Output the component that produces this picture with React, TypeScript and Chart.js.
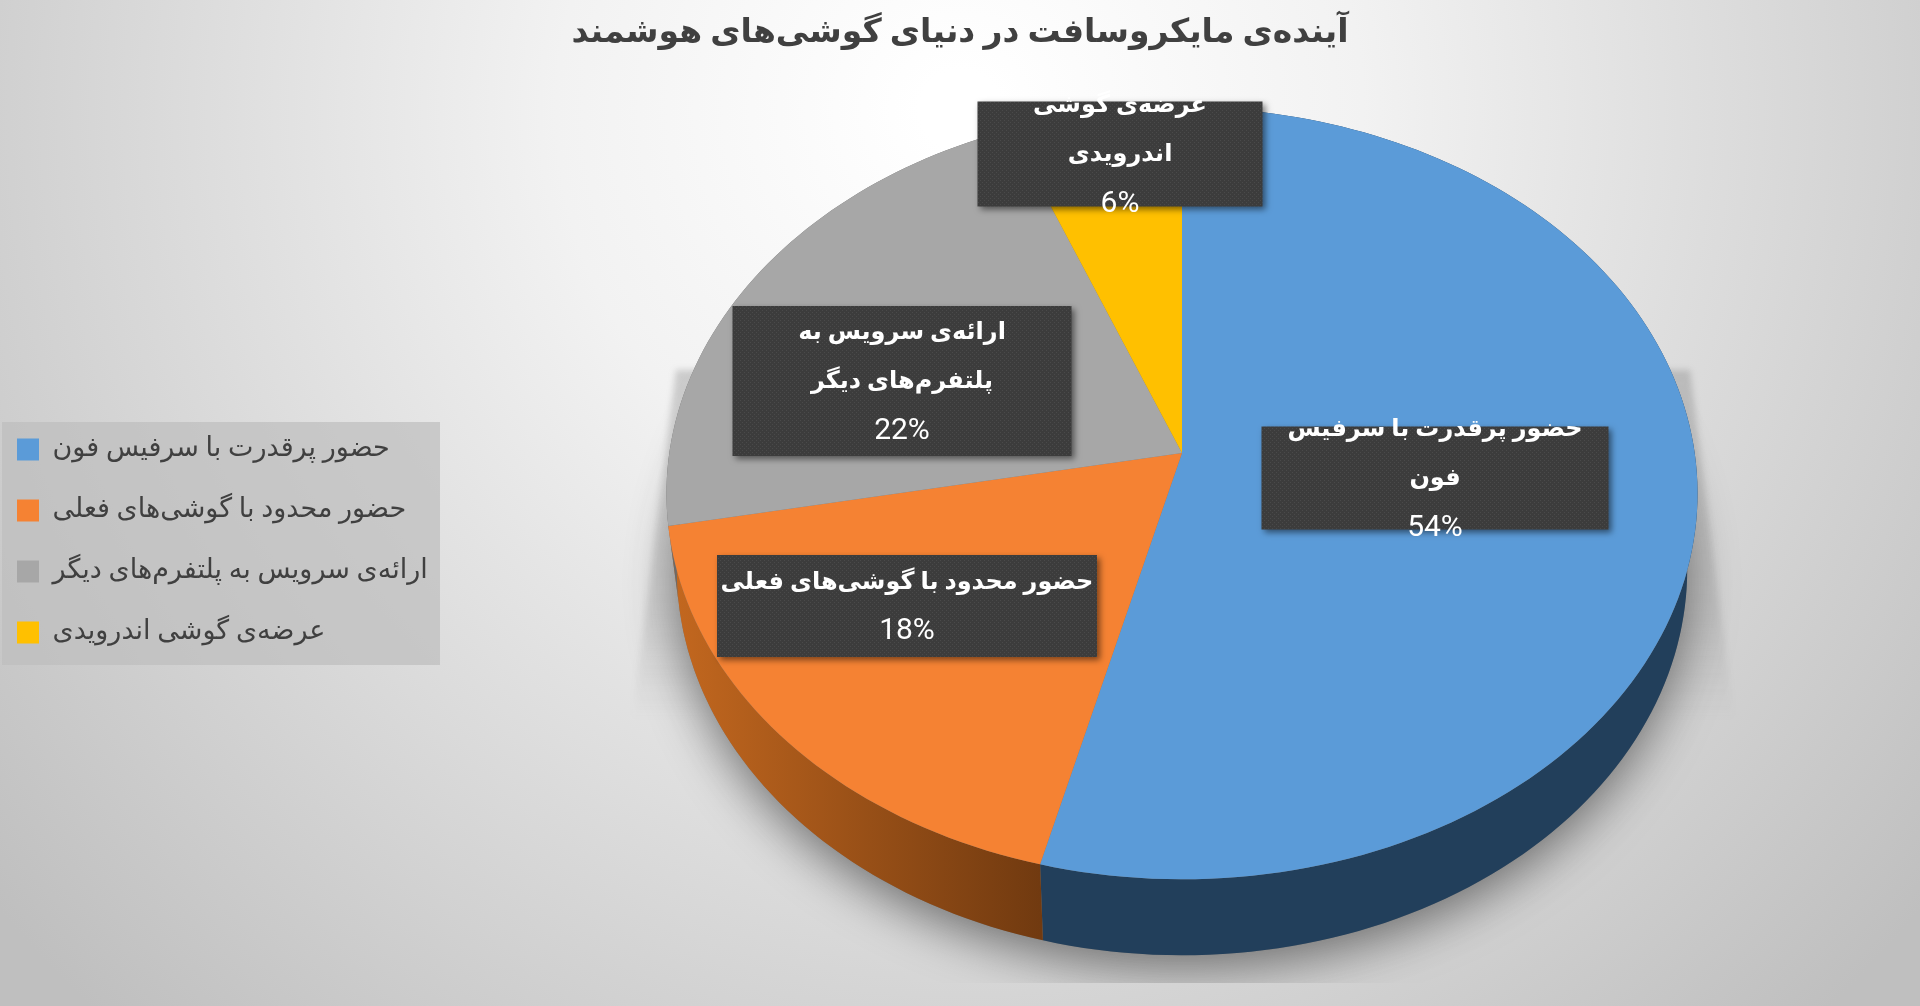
import { useEffect, useRef } from 'react';
import Chart from 'chart.js/auto';

const chartTitle = 'آینده‌ی مایکروسافت در دنیای گوشی‌های هوشمند';
const categories = [
  'حضور پرقدرت با سرفیس فون',
  'حضور محدود با گوشی‌های فعلی',
  'ارائه‌ی سرویس به پلتفرم‌های دیگر',
  'عرضه‌ی گوشی اندرویدی',
];
const shareValues = [54, 18, 22, 6];

const sliceColors = ['#5b9bd8', '#f58233', '#a7a7a7', '#ffc000'];
const wallColors = [
  ['#223f5b', '#223f5b'],
  ['#c4681f', '#713a10'],
  ['#6a6a6a', '#6a6a6a'],
  ['#9a7400', '#9a7400'],
];

// label boxes: centre x, centre y, width, height
const labelBoxes = [
  [1435, 478, 347, 103],
  [907, 606, 380, 102],
  [902, 381, 339, 150],
  [1120, 154, 285, 105],
];

const FONT = '"Roboto", "DejaVu Sans", sans-serif';
const PIE_X = 1182;
const PIE_Y = 453;
const PIE_R = 300;
const TILT = 0.1048; // perspective of the tilted disc
const SCALE_X = 1.709;
const SCALE_Y = 1.272;
const DEPTH = 76;
const WALL_INSET = 0.98;

function project(arc: any, angle: number) {
  const u = Math.cos(angle);
  const v = -Math.sin(angle);
  const d = 1 + TILT * v;
  return {
    x: arc.x + (arc.outerRadius * SCALE_X * u) / d,
    y: arc.y - (arc.outerRadius * SCALE_Y * v) / d,
  };
}

function rimPoints(arc: any) {
  const steps = Math.max(6, Math.ceil((arc.endAngle - arc.startAngle) * 40));
  const pts = [];
  for (let i = 0; i <= steps; i++) {
    pts.push(project(arc, arc.startAngle + ((arc.endAngle - arc.startAngle) * i) / steps));
  }
  return pts;
}

function lowerRim(arc: any, p: { x: number; y: number }) {
  return { x: arc.x + (p.x - arc.x) * WALL_INSET, y: p.y + DEPTH };
}

function drawFloorShadow(ctx: CanvasRenderingContext2D, arcs: any[]) {
  const first = arcs[0];
  const full: { x: number; y: number }[] = [];
  for (let i = 0; i <= 120; i++) full.push(lowerRim(first, project(first, (i / 120) * Math.PI * 2)));

  // pale wedge either side of the disc
  ctx.save();
  ctx.filter = 'blur(3px)';
  const g = ctx.createLinearGradient(0, 370, 0, 720);
  g.addColorStop(0, 'rgba(90,90,90,0.26)');
  g.addColorStop(0.7, 'rgba(90,90,90,0.14)');
  g.addColorStop(1, 'rgba(90,90,90,0)');
  ctx.fillStyle = g;
  ctx.beginPath();
  ctx.moveTo(676, 370);
  ctx.lineTo(632, 720);
  ctx.lineTo(1734, 720);
  ctx.lineTo(1690, 370);
  ctx.closePath();
  ctx.fill();
  ctx.restore();

  // soft shadow under the wall, cut at the floor line
  ctx.save();
  ctx.beginPath();
  ctx.rect(0, 0, 1920, 983);
  ctx.clip();
  ctx.shadowColor = 'rgba(40,40,40,0.6)';
  ctx.shadowBlur = 50;
  ctx.shadowOffsetY = 14;
  ctx.fillStyle = '#777';
  ctx.beginPath();
  full.forEach((p, i) => (i ? ctx.lineTo(p.x, p.y) : ctx.moveTo(p.x, p.y)));
  ctx.closePath();
  ctx.fill();
  ctx.restore();
}

const piePerspective = {
  id: 'piePerspective',
  beforeDraw(chart: any) {
    const { ctx, width, height } = chart;
    const bg = ctx.createRadialGradient(960, 110, 40, 960, 110, 1250);
    bg.addColorStop(0, '#ffffff');
    bg.addColorStop(0.3, '#f2f2f2');
    bg.addColorStop(1, '#bfbfbf');
    ctx.fillStyle = bg;
    ctx.fillRect(0, 0, width, height);
    // legend panel
    ctx.fillStyle = 'rgba(190,190,190,0.72)';
    ctx.fillRect(2, 422, 438, 243);
  },
  afterLayout(chart: any) {
    const area = chart.chartArea;
    area.left = PIE_X - PIE_R;
    area.right = PIE_X + PIE_R;
    area.top = PIE_Y - PIE_R;
    area.bottom = PIE_Y + PIE_R;
    area.width = PIE_R * 2;
    area.height = PIE_R * 2;
    const legend = chart.legend;
    const w = legend.width;
    const h = legend.height;
    legend.left = 17 - legend.options.labels.padding;
    legend.right = legend.left + w;
    legend.top = 436 - legend.options.labels.padding;
    legend.bottom = legend.top + h;
  },
  beforeDatasetDraw(chart: any, args: any) {
    const { ctx } = chart;
    const arcs = args.meta.data;
    drawFloorShadow(ctx, arcs);
    arcs.forEach((arc: any, i: number) => {
      const pts = rimPoints(arc);
      const xs = pts.map((p: any) => p.x);
      const g = ctx.createLinearGradient(Math.min(...xs), 0, Math.max(...xs), 0);
      g.addColorStop(0, wallColors[i][0]);
      g.addColorStop(1, wallColors[i][1]);
      ctx.fillStyle = g;
      ctx.beginPath();
      pts.forEach((p: any, k: number) => (k ? ctx.lineTo(p.x, p.y) : ctx.moveTo(p.x, p.y)));
      [...pts].reverse().forEach((p: any) => {
        const low = lowerRim(arc, p);
        ctx.lineTo(low.x, low.y);
      });
      ctx.closePath();
      ctx.fill();
    });
    arcs.forEach((arc: any, i: number) => {
      const pts = rimPoints(arc);
      ctx.fillStyle = sliceColors[i];
      ctx.beginPath();
      ctx.moveTo(arc.x, arc.y);
      pts.forEach((p: any) => ctx.lineTo(p.x, p.y));
      ctx.closePath();
      ctx.fill();
    });
    return false;
  },
  afterDatasetsDraw(chart: any) {
    const { ctx } = chart;
    const tile = document.createElement('canvas');
    tile.width = 4;
    tile.height = 4;
    const t = tile.getContext('2d')!;
    t.fillStyle = '#3c3c3c';
    t.fillRect(0, 0, 4, 4);
    t.fillStyle = '#4a4a4a';
    t.fillRect(0, 0, 1, 1);
    t.fillRect(2, 2, 1, 1);
    const pattern = ctx.createPattern(tile, 'repeat');
    const nameFont = `bold 24px ${FONT}`;

    categories.forEach((name, i) => {
      const [cx, cy, w, h] = labelBoxes[i];
      ctx.save();
      ctx.shadowColor = 'rgba(0,0,0,0.5)';
      ctx.shadowBlur = 6;
      ctx.shadowOffsetX = 3;
      ctx.shadowOffsetY = 3;
      ctx.fillStyle = pattern;
      ctx.fillRect(cx - w / 2, cy - h / 2, w, h);
      ctx.restore();

      ctx.font = nameFont;
      const lines: string[] = [];
      let line = '';
      name.split(' ').forEach((word) => {
        const next = line ? `${line} ${word}` : word;
        if (ctx.measureText(next).width > w - 6 && line) {
          lines.push(line);
          line = word;
        } else {
          line = next;
        }
      });
      lines.push(line);
      lines.push(`${shareValues[i]}%`);

      ctx.fillStyle = '#ffffff';
      ctx.textAlign = 'center';
      ctx.textBaseline = 'middle';
      lines.forEach((text, k) => {
        ctx.font = k === lines.length - 1 ? `400 30px ${FONT}` : nameFont;
        ctx.fillText(text, cx, cy + 1 + (k - (lines.length - 1) / 2) * 49);
      });
    });
  },
};

export default function App() {
  const canvasRef = useRef<HTMLCanvasElement>(null);

  useEffect(() => {
    document.body.style.margin = '0';
    if (!canvasRef.current) return;
    const chart = new Chart(canvasRef.current, {
      type: 'pie',
      data: {
        labels: categories,
        datasets: [{ data: shareValues, backgroundColor: sliceColors, borderWidth: 0 }],
      },
      options: {
        animation: false,
        responsive: false,
        devicePixelRatio: 1,
        plugins: {
          tooltip: { enabled: false },
          title: {
            display: true,
            text: chartTitle,
            color: '#404040',
            align: 'center',
            font: { family: FONT, size: 33, weight: 'bold' },
            padding: { top: 14, bottom: 0 },
          },
          legend: {
            position: 'left',
            align: 'start',
            textDirection: 'rtl',
            labels: {
              color: '#404040',
              font: { family: FONT, size: 27 },
              boxWidth: 22,
              boxHeight: 22,
              padding: 34,
              textAlign: 'left',
            },
          },
        },
      },
      plugins: [piePerspective],
    } as any);
    return () => {
      chart.destroy();
    };
  }, []);

  return <canvas ref={canvasRef} width={1920} height={1006} style={{ display: 'block' }} />;
}
